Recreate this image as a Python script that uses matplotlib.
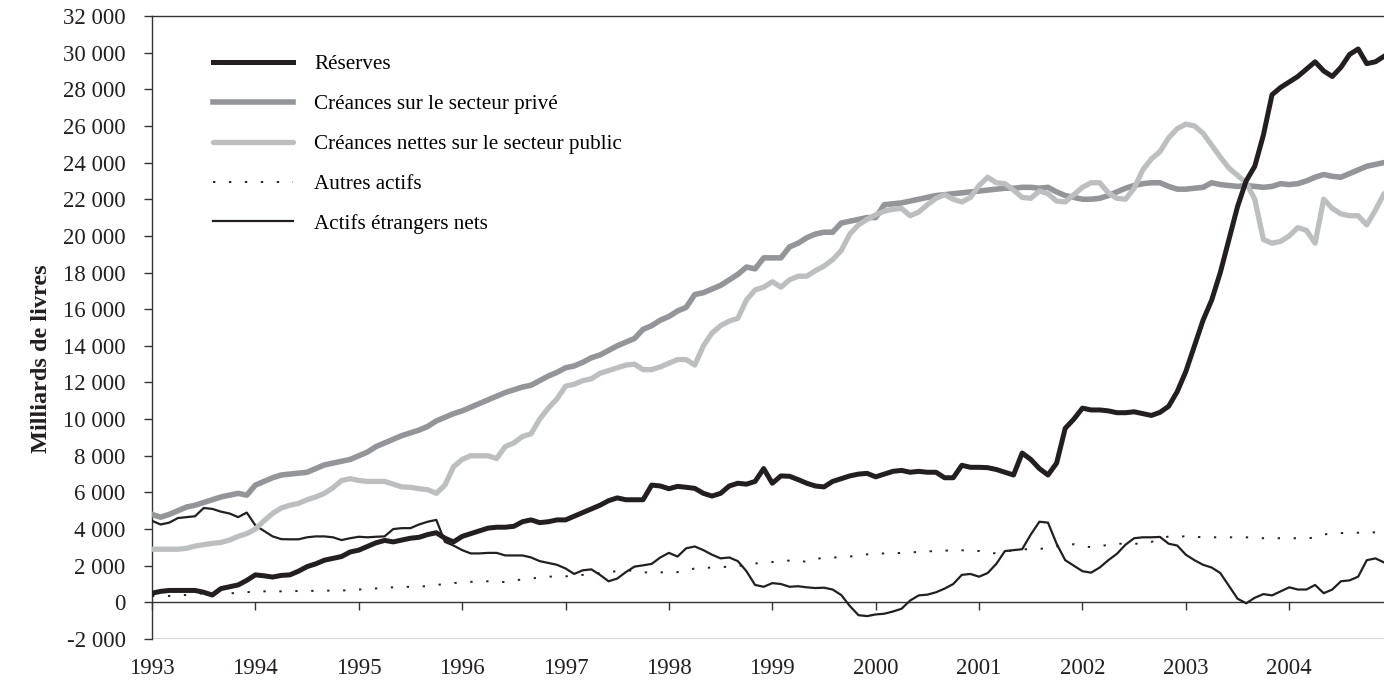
import matplotlib
matplotlib.use("Agg")
import matplotlib.pyplot as plt
import numpy as np
from matplotlib.ticker import FuncFormatter, MultipleLocator

# Monthly series, Jan 1993 - Dec 2004, in thousands of billions of pounds
reserves = [
    0.5, 0.6, 0.65, 0.65, 0.65, 0.65, 0.55, 0.4, 0.75, 0.85, 0.95, 1.2,
    1.5, 1.45, 1.38, 1.47, 1.5, 1.7, 1.95, 2.1, 2.3, 2.4, 2.5, 2.75,
    2.85, 3.05, 3.25, 3.38, 3.3, 3.4, 3.5, 3.55, 3.7, 3.8, 3.5, 3.3,
    3.6, 3.75, 3.9, 4.05, 4.1, 4.1, 4.15, 4.4, 4.5, 4.35, 4.4, 4.5,
    4.5, 4.7, 4.9, 5.1, 5.3, 5.55, 5.7, 5.6, 5.6, 5.6, 6.4, 6.35,
    6.2, 6.33, 6.28, 6.22, 5.95, 5.8, 5.95, 6.35, 6.5, 6.45, 6.6, 7.3,
    6.5, 6.9, 6.88, 6.7, 6.5, 6.35, 6.3, 6.6, 6.75, 6.9, 7.0, 7.04,
    6.85, 7.0, 7.15, 7.2, 7.1, 7.15, 7.1, 7.1, 6.8, 6.8, 7.48, 7.37,
    7.37, 7.35, 7.25, 7.1, 6.95, 8.15, 7.8, 7.3, 6.95, 7.6, 9.5, 10.0,
    10.6, 10.5, 10.5, 10.45, 10.35, 10.35, 10.4, 10.3, 10.2, 10.37, 10.7, 11.5,
    12.6, 14.0, 15.4, 16.5, 18.0, 19.8, 21.6, 23.0, 23.8, 25.5, 27.7, 28.1,
    28.4, 28.7, 29.1, 29.5, 29.0, 28.7, 29.2, 29.9, 30.2, 29.4, 29.5, 29.8,
]
prive = [
    4.8, 4.65, 4.8, 5.0, 5.2, 5.3, 5.45, 5.6, 5.75, 5.85, 5.95, 5.85,
    6.4, 6.6, 6.8, 6.95, 7.0, 7.05, 7.1, 7.3, 7.5, 7.6, 7.7, 7.8,
    8.0, 8.2, 8.5, 8.7, 8.9, 9.1, 9.25, 9.4, 9.6, 9.9, 10.1, 10.3,
    10.45, 10.65, 10.85, 11.05, 11.25, 11.45, 11.6, 11.75, 11.85, 12.1, 12.35, 12.55,
    12.8, 12.9, 13.1, 13.35, 13.5, 13.75, 14.0, 14.2, 14.4, 14.9, 15.1, 15.4,
    15.6, 15.9, 16.1, 16.8, 16.9, 17.1, 17.3, 17.6, 17.9, 18.3, 18.2, 18.8,
    18.8, 18.8, 19.4, 19.6, 19.9, 20.1, 20.2, 20.2, 20.7, 20.8, 20.9, 21.0,
    21.0, 21.7, 21.75, 21.8, 21.9, 22.0, 22.1, 22.2, 22.25, 22.3, 22.35, 22.4,
    22.45, 22.5, 22.55, 22.6, 22.6, 22.65, 22.65, 22.6, 22.65, 22.4, 22.2, 22.1,
    22.0, 22.0, 22.05, 22.2, 22.4, 22.6, 22.75, 22.85, 22.9, 22.9, 22.7, 22.55,
    22.55, 22.6, 22.65, 22.9, 22.8, 22.75, 22.7, 22.75, 22.7, 22.65, 22.7, 22.85,
    22.8, 22.85, 23.0, 23.2, 23.35, 23.25, 23.2, 23.4, 23.6, 23.8, 23.9, 24.0,
]
public = [
    2.9, 2.9, 2.9, 2.9, 2.95, 3.07, 3.15, 3.22, 3.27, 3.4, 3.6, 3.75,
    4.0, 4.45, 4.85, 5.15, 5.3, 5.4, 5.6, 5.75, 5.95, 6.25, 6.65, 6.75,
    6.65, 6.6, 6.6, 6.6, 6.45, 6.3, 6.28, 6.2, 6.15, 5.95, 6.4, 7.4,
    7.8, 8.0, 8.0, 8.0, 7.85, 8.5, 8.7, 9.05, 9.2, 10.0, 10.6, 11.1,
    11.8, 11.9, 12.1, 12.2, 12.5, 12.65, 12.8, 12.95, 13.0, 12.7, 12.7, 12.85,
    13.05, 13.25, 13.25, 12.95, 14.0, 14.7, 15.1, 15.35, 15.5, 16.5, 17.05, 17.2,
    17.5, 17.2, 17.6, 17.8, 17.8, 18.1, 18.35, 18.7, 19.2, 20.1, 20.6, 20.9,
    21.15, 21.35, 21.45, 21.5, 21.1, 21.3, 21.7, 22.05, 22.25, 22.0, 21.85, 22.1,
    22.75, 23.2, 22.9, 22.85, 22.5, 22.1, 22.05, 22.45, 22.3, 21.9, 21.85, 22.25,
    22.65, 22.9, 22.9, 22.35, 22.05, 22.0, 22.6, 23.6, 24.2, 24.6, 25.35, 25.85,
    26.1, 26.0, 25.6, 24.95, 24.3, 23.7, 23.3, 22.9, 22.0, 19.8, 19.6, 19.7,
    20.0, 20.45, 20.3, 19.6, 22.0, 21.5, 21.2, 21.1, 21.1, 20.6, 21.4, 22.3,
]
autres = [
    0.35, 0.35, 0.35, 0.38, 0.4, 0.45, 0.5, 0.5, 0.5, 0.5, 0.5, 0.55,
    0.6, 0.6, 0.6, 0.6, 0.6, 0.62, 0.62, 0.63, 0.63, 0.65, 0.65, 0.66,
    0.7, 0.72, 0.76, 0.8, 0.82, 0.84, 0.85, 0.87, 0.88, 0.95, 1.0, 1.05,
    1.1, 1.12, 1.13, 1.15, 1.15, 1.1, 1.2, 1.25, 1.3, 1.35, 1.4, 1.42,
    1.42, 1.45, 1.5, 1.55, 1.6, 1.65, 1.7, 1.75, 1.72, 1.65, 1.6, 1.65,
    1.58, 1.65, 1.75, 1.85, 1.88, 1.9, 1.92, 1.95, 1.97, 2.05, 2.12, 2.18,
    2.2, 2.25, 2.28, 2.3, 2.2, 2.35, 2.45, 2.45, 2.46, 2.5, 2.55, 2.62,
    2.67, 2.67, 2.67, 2.7, 2.73, 2.75, 2.78, 2.8, 2.82, 2.84, 2.84, 2.84,
    2.8, 2.72, 2.67, 2.75, 2.85, 2.9, 2.9, 2.92, 2.95, 3.05, 3.15, 3.17,
    3.1, 3.0, 3.05, 3.15, 3.2, 3.2, 3.2, 3.2, 3.3, 3.45, 3.6, 3.6,
    3.6, 3.58, 3.55, 3.55, 3.55, 3.55, 3.55, 3.55, 3.52, 3.5, 3.5, 3.5,
    3.5, 3.5, 3.48, 3.55, 3.7, 3.77, 3.78, 3.8, 3.8, 3.82, 3.82, 3.85,
]
etrangers = [
    4.45, 4.25, 4.35, 4.6, 4.65, 4.7, 5.15, 5.1, 4.95, 4.85, 4.65, 4.9,
    4.2, 3.9, 3.6, 3.45, 3.44, 3.44, 3.55, 3.6, 3.6, 3.55, 3.4, 3.5,
    3.58, 3.55, 3.58, 3.6, 4.0, 4.05, 4.05, 4.25, 4.4, 4.5, 3.3, 3.1,
    2.85, 2.67, 2.67, 2.7, 2.7, 2.56, 2.56, 2.56, 2.45, 2.25, 2.15, 2.05,
    1.85, 1.55, 1.75, 1.8, 1.5, 1.15, 1.3, 1.65, 1.95, 2.02, 2.1, 2.45,
    2.7, 2.5, 2.95, 3.05, 2.85, 2.6, 2.4, 2.45, 2.25, 1.7, 0.95, 0.85,
    1.05, 1.0, 0.85, 0.88, 0.82, 0.78, 0.8, 0.7, 0.4, -0.2, -0.7, -0.75,
    -0.66, -0.62, -0.5, -0.35, 0.1, 0.38, 0.42, 0.55, 0.75, 1.0, 1.5, 1.55,
    1.4, 1.6, 2.1, 2.8, 2.85, 2.9, 3.7, 4.4, 4.35, 3.2, 2.3, 2.0,
    1.7, 1.62, 1.9, 2.3, 2.65, 3.15, 3.5, 3.55, 3.55, 3.57, 3.2, 3.1,
    2.6, 2.3, 2.05, 1.9, 1.6, 0.9, 0.2, -0.05, 0.25, 0.45, 0.38, 0.6,
    0.82, 0.7, 0.7, 0.95, 0.5, 0.7, 1.15, 1.2, 1.4, 2.3, 2.4, 2.18,
]
years = list(range(1993, 2005))

months = np.arange(len(reserves))
to_units = lambda s: np.array(s) * 1000

plt.rcParams['font.family'] = ['Liberation Serif', 'DejaVu Serif']
fig = plt.figure(figsize=(13.84, 6.83), dpi=100)
ax = fig.add_axes([152 / 1384, 1 - 639 / 683, 1232 / 1384, 623 / 683])

ink = '#231f20'
ax.plot(months, to_units(etrangers), color=ink, lw=1.6, label='Actifs étrangers nets', zorder=3)
ax.plot(months, to_units(autres), color=ink, lw=1.4, linestyle=(0, (1.2, 7)),
        label='Autres actifs', zorder=3)
ax.plot(months, to_units(prive), color='#939598', lw=4.0, label='Créances sur le secteur privé', zorder=4)
ax.plot(months, to_units(public), color='#bcbec0', lw=3.8, solid_capstyle='round',
        label='Créances nettes sur le secteur public', zorder=5)
ax.plot(months, to_units(reserves), color=ink, lw=3.6, label='Réserves', zorder=6)

ax.set_xlim(0, 143)
ax.set_ylim(-2000, 32000)
ax.yaxis.set_major_locator(MultipleLocator(2000))
ax.yaxis.set_major_formatter(FuncFormatter(lambda v, p: f"{v:,.0f}".replace(",", " ")))
ax.set_xticks([12 * i for i in range(len(years))])
ax.set_xticklabels([str(y) for y in years])

for s in ['top', 'left', 'bottom']:
    ax.spines[s].set_color('#333333')
    ax.spines[s].set_linewidth(1.0)
ax.spines['right'].set_visible(False)
ax.spines['bottom'].set_position(('data', 0))
ax.axhline(-2000, color='#333333', lw=1.0, zorder=1)

ax.tick_params(axis='y', direction='out', length=6, width=1, color='#333333',
               labelsize=16.5, pad=13, labelcolor='#231f20')
ax.tick_params(axis='x', direction='out', length=6, width=1, color='#333333',
               labelsize=16.5, pad=34, labelcolor='#231f20')

ax.set_ylabel('Milliards de livres', fontsize=17.5, fontweight='bold', color='#231f20')
ax.yaxis.set_label_coords(-0.081, 0.45)

handles, labels = ax.get_legend_handles_labels()
order = [4, 2, 3, 1, 0]
ax.legend([handles[i] for i in order], [labels[i] for i in order],
          loc='upper left', bbox_to_anchor=(0.0495, 0.938), frameon=False,
          fontsize=15.2, handlelength=3.8, handletextpad=1.0, labelspacing=0.95,
          borderpad=0, borderaxespad=0)

fig.savefig('out.png', dpi=100)
